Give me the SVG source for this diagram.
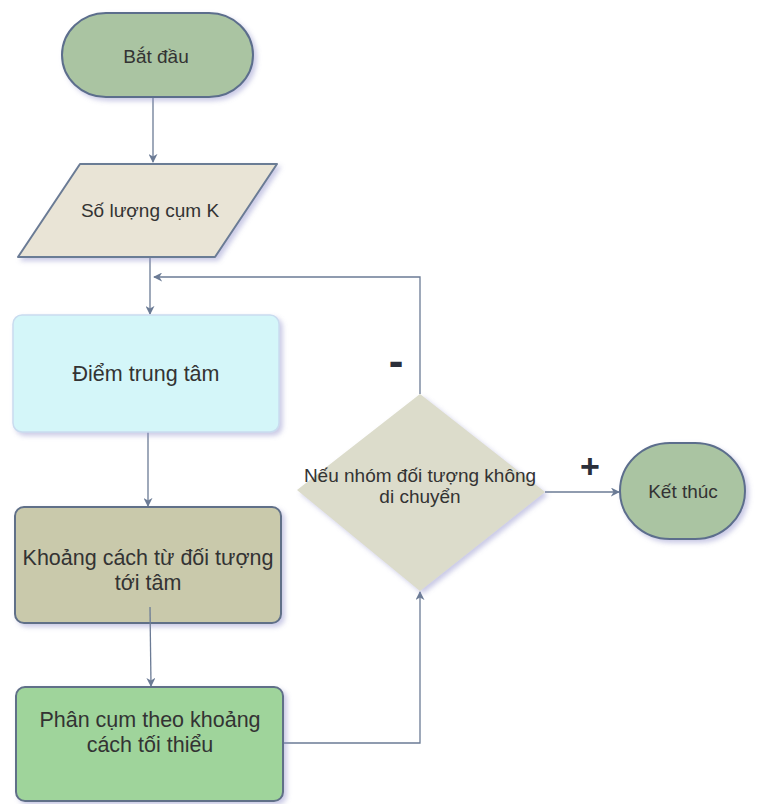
<svg xmlns="http://www.w3.org/2000/svg" width="772" height="804" viewBox="0 0 772 804">
  <style>
    .lbl { font-family: "Liberation Sans", Arial, sans-serif; fill: #333333; text-anchor: middle; }
    .small { font-size: 19px; }
    .big { font-size: 21.5px; }
    .edge { fill: none; stroke: #6b7b95; stroke-width: 1.3; }
    .mark { font-family: "Liberation Sans", Arial, sans-serif; font-weight: bold; fill: #2b2f3a; text-anchor: middle; }
  </style>
  <defs>
    <filter id="shadow" x="-10%" y="-10%" width="130%" height="130%">
      <feDropShadow dx="3" dy="3" stdDeviation="2.5" flood-color="#8a8ac8" flood-opacity="0.45"/>
    </filter>
    <marker id="arrow" viewBox="0 0 10 10" refX="9" refY="5" markerWidth="9" markerHeight="9" markerUnits="userSpaceOnUse" orient="auto">
      <path d="M0,0 L10,5 L0,10 L3,5 Z" fill="#6b7b95"/>
    </marker>
  </defs>
  <rect width="772" height="804" fill="#ffffff"/>

  <!-- connectors -->
  <g id="connectors">
    <path class="edge" d="M153,97 L153,162" marker-end="url(#arrow)"/>
    <path class="edge" d="M150,257 L150,314" marker-end="url(#arrow)"/>
    <path class="edge" d="M420,394 L420,277 L154,277" marker-end="url(#arrow)"/>
    <path class="edge" d="M148,432 L148,506" marker-end="url(#arrow)"/>
    <path class="edge" d="M283,743 L420,743 L420,592" marker-end="url(#arrow)"/>
    <path class="edge" d="M545,492 L619,492" marker-end="url(#arrow)"/>
  </g>

  <g id="start">
    <rect x="62" y="13" width="191" height="84" rx="44" ry="42" fill="#aac4a2" stroke="#5c6e8c" stroke-width="2" filter="url(#shadow)"/>
    <text class="lbl small" x="156" y="63">Bắt đầu</text>
  </g>

  <g id="input-k">
    <path d="M80,164 L277,164 L215,257 L18,257 Z" fill="#e9e4d6" stroke="#6b7b95" stroke-width="2" stroke-linejoin="round" filter="url(#shadow)"/>
    <text class="lbl small" x="150" y="217">Số lượng cụm K</text>
  </g>

  <g id="centroid">
    <rect x="13" y="315" width="266" height="117" rx="9" fill="#d4f6f9" stroke="#c9dcef" stroke-width="1.5" filter="url(#shadow)"/>
    <text class="lbl big" x="146" y="381">Điểm trung tâm</text>
  </g>

  <g id="distance">
    <rect x="15" y="507" width="266" height="116" rx="9" fill="#c9c9ab" stroke="#607088" stroke-width="2" filter="url(#shadow)"/>
    <text class="lbl big" x="148" y="565">Khoảng cách từ đối tượng</text>
    <text class="lbl big" x="148" y="590">tới tâm</text>
  </g>

  <!-- this connector starts over the lower part of the distance box -->
  <path class="edge" d="M150,607 L151,686" marker-end="url(#arrow)"/>

  <g id="cluster">
    <rect x="16" y="687" width="267" height="114" rx="9" fill="#9fd49b" stroke="#607088" stroke-width="2" filter="url(#shadow)"/>
    <text class="lbl big" x="150" y="727">Phân cụm theo khoảng</text>
    <text class="lbl big" x="150" y="752">cách tối thiểu</text>
  </g>

  <g id="decision">
    <path d="M420,394 L545,492 L420,591 L297,490 Z" fill="#dcdccb" filter="url(#shadow)"/>
    <text class="lbl small" x="420" y="482">Nếu nhóm đối tượng không</text>
    <text class="lbl small" x="420" y="503">di chuyển</text>
  </g>

  <g id="end">
    <rect x="620" y="443" width="125" height="96" rx="50" ry="48" fill="#aac4a2" stroke="#5c6e8c" stroke-width="2" filter="url(#shadow)"/>
    <text class="lbl small" x="683" y="498">Kết thúc</text>
  </g>

  <g id="edge-labels">
    <text class="mark" x="590" y="478" font-size="34">+</text>
    <text class="mark" x="396" y="376" font-size="44">-</text>
  </g>
</svg>
